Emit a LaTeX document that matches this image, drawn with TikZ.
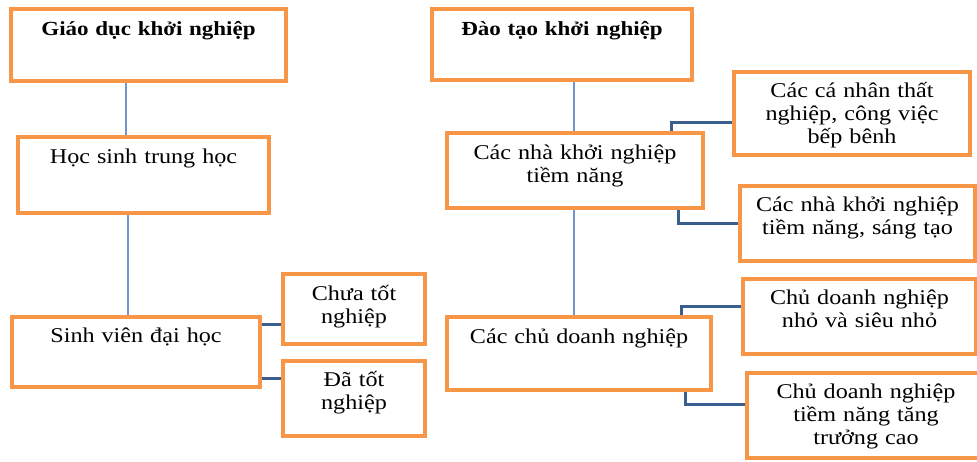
\documentclass[tikz,border=0pt]{standalone}
\usepackage{fontspec}
\setmainfont[FakeStretch=1.15]{Liberation Serif}
\definecolor{boxorange}{HTML}{F79646}
\definecolor{lineblue}{HTML}{6F97CD}
\definecolor{darkblue}{HTML}{3A5E8F}
\tikzset{
  box/.style={draw=boxorange, line width=4pt, fill=white, inner sep=0pt},
  txt/.style={anchor=base, align=center, inner sep=0pt, text width=#1,
              font=\fontsize{21pt}{23pt}\selectfont},
  ttl/.style={anchor=base, align=center, inner sep=0pt, text width=#1,
              font=\fontsize{20pt}{23pt}\selectfont\bfseries},
  vline/.style={draw=lineblue, line width=2.5pt},
  hline/.style={draw=darkblue, line width=3pt}
}
\begin{document}
\begin{tikzpicture}[x=1pt,y=-1pt]
\useasboundingbox (0,0) rectangle (977,461);
\fill[white] (0,0) rectangle (977,461);
% boxes
\node[box, minimum width=275pt, minimum height=72pt] (A) at (148.5,45) {};
\node[box, minimum width=251pt, minimum height=76pt] (B) at (143.5,175) {};
\node[box, minimum width=248pt, minimum height=70pt] (C) at (136,352) {};
\node[box, minimum width=142pt, minimum height=70pt] (D) at (354,309) {};
\node[box, minimum width=142pt, minimum height=75pt] (E) at (354,398.5) {};
\node[box, minimum width=260pt, minimum height=71pt] (F) at (562,44.5) {};
\node[box, minimum width=256pt, minimum height=75pt] (G) at (575,170.5) {};
\node[box, minimum width=236pt, minimum height=83pt] (H) at (852,113.5) {};
\node[box, minimum width=235pt, minimum height=75pt] (I) at (857.5,223.5) {};
\node[box, minimum width=264pt, minimum height=73pt] (J) at (579,353.5) {};
\node[box, minimum width=233pt, minimum height=75pt] (K) at (859.5,316.5) {};
\node[box, minimum width=238pt, minimum height=85pt] (L) at (866,415.5) {};
% texts
\node[ttl=270pt] (At) at ([yshift=-28pt]A.north) {Giáo dục khởi nghiệp};
\node[txt=245pt] (Bt) at ([yshift=-28pt]B.north) {Học sinh trung học};
\node[txt=245pt] (Ct) at ([yshift=-27.5pt]C.north) {Sinh viên đại học};
\node[txt=138pt] (Dt) at ([yshift=-28pt]D.north) {Chưa tốt\\nghiệp};
\node[txt=138pt] (Et) at ([yshift=-27pt]E.north) {Đã tốt\\nghiệp};
\node[ttl=255pt] (Ft) at ([yshift=-28pt]F.north) {Đào tạo khởi nghiệp};
\node[txt=250pt] (Gt) at ([yshift=-28pt]G.north) {Các nhà khởi nghiệp\\tiềm năng};
\node[txt=232pt] (Ht) at ([yshift=-27pt]H.north) {Các cá nhân thất\\nghiệp, công việc\\bếp bênh};
\node[txt=232pt] (It) at ([yshift=-27pt]I.north) {Các nhà khởi nghiệp\\tiềm năng, sáng tạo};
\node[txt=258pt] (Jt) at ([yshift=-28pt]J.north) {Các chủ doanh nghiệp};
\node[txt=230pt] (Kt) at ([yshift=-27pt]K.north) {Chủ doanh nghiệp\\nhỏ và siêu nhỏ};
\node[txt=230pt] (Lt) at ([yshift=-27pt]L.north) {Chủ doanh nghiệp\\tiềm năng tăng\\trưởng cao};
% vertical connectors
\draw[vline] ([xshift=-22.5pt]A.south) -- ([xshift=-22.5pt]A.south |- B.north);
\draw[vline] ([xshift=-15.5pt]B.south) -- ([xshift=-15.5pt]B.south |- C.north);
\draw[vline] ([xshift=-1pt]G.north) -- ([xshift=-1pt]G.north |- F.south);
\draw[vline] ([xshift=-1pt]G.south) -- ([xshift=-1pt]G.south |- J.north);
% side connectors
\draw[hline] ([yshift=-9pt]C.north east) -- ([yshift=-9pt]C.north east -| D.west);
\draw[hline] ([yshift=11pt]C.south east) -- ([yshift=11pt]C.south east -| E.west);
\draw[hline] ([xshift=-34pt]G.north east) |- ([yshift=-8.5pt]H.west);
\draw[hline] ([xshift=-27pt]G.south east) |- (I.west);
\draw[hline] ([xshift=-32pt]J.north east) |- ([yshift=10.5pt]K.west);
\draw[hline] ([xshift=-28pt]J.south east) |- ([yshift=11.5pt]L.west);
\end{tikzpicture}
\end{document}
